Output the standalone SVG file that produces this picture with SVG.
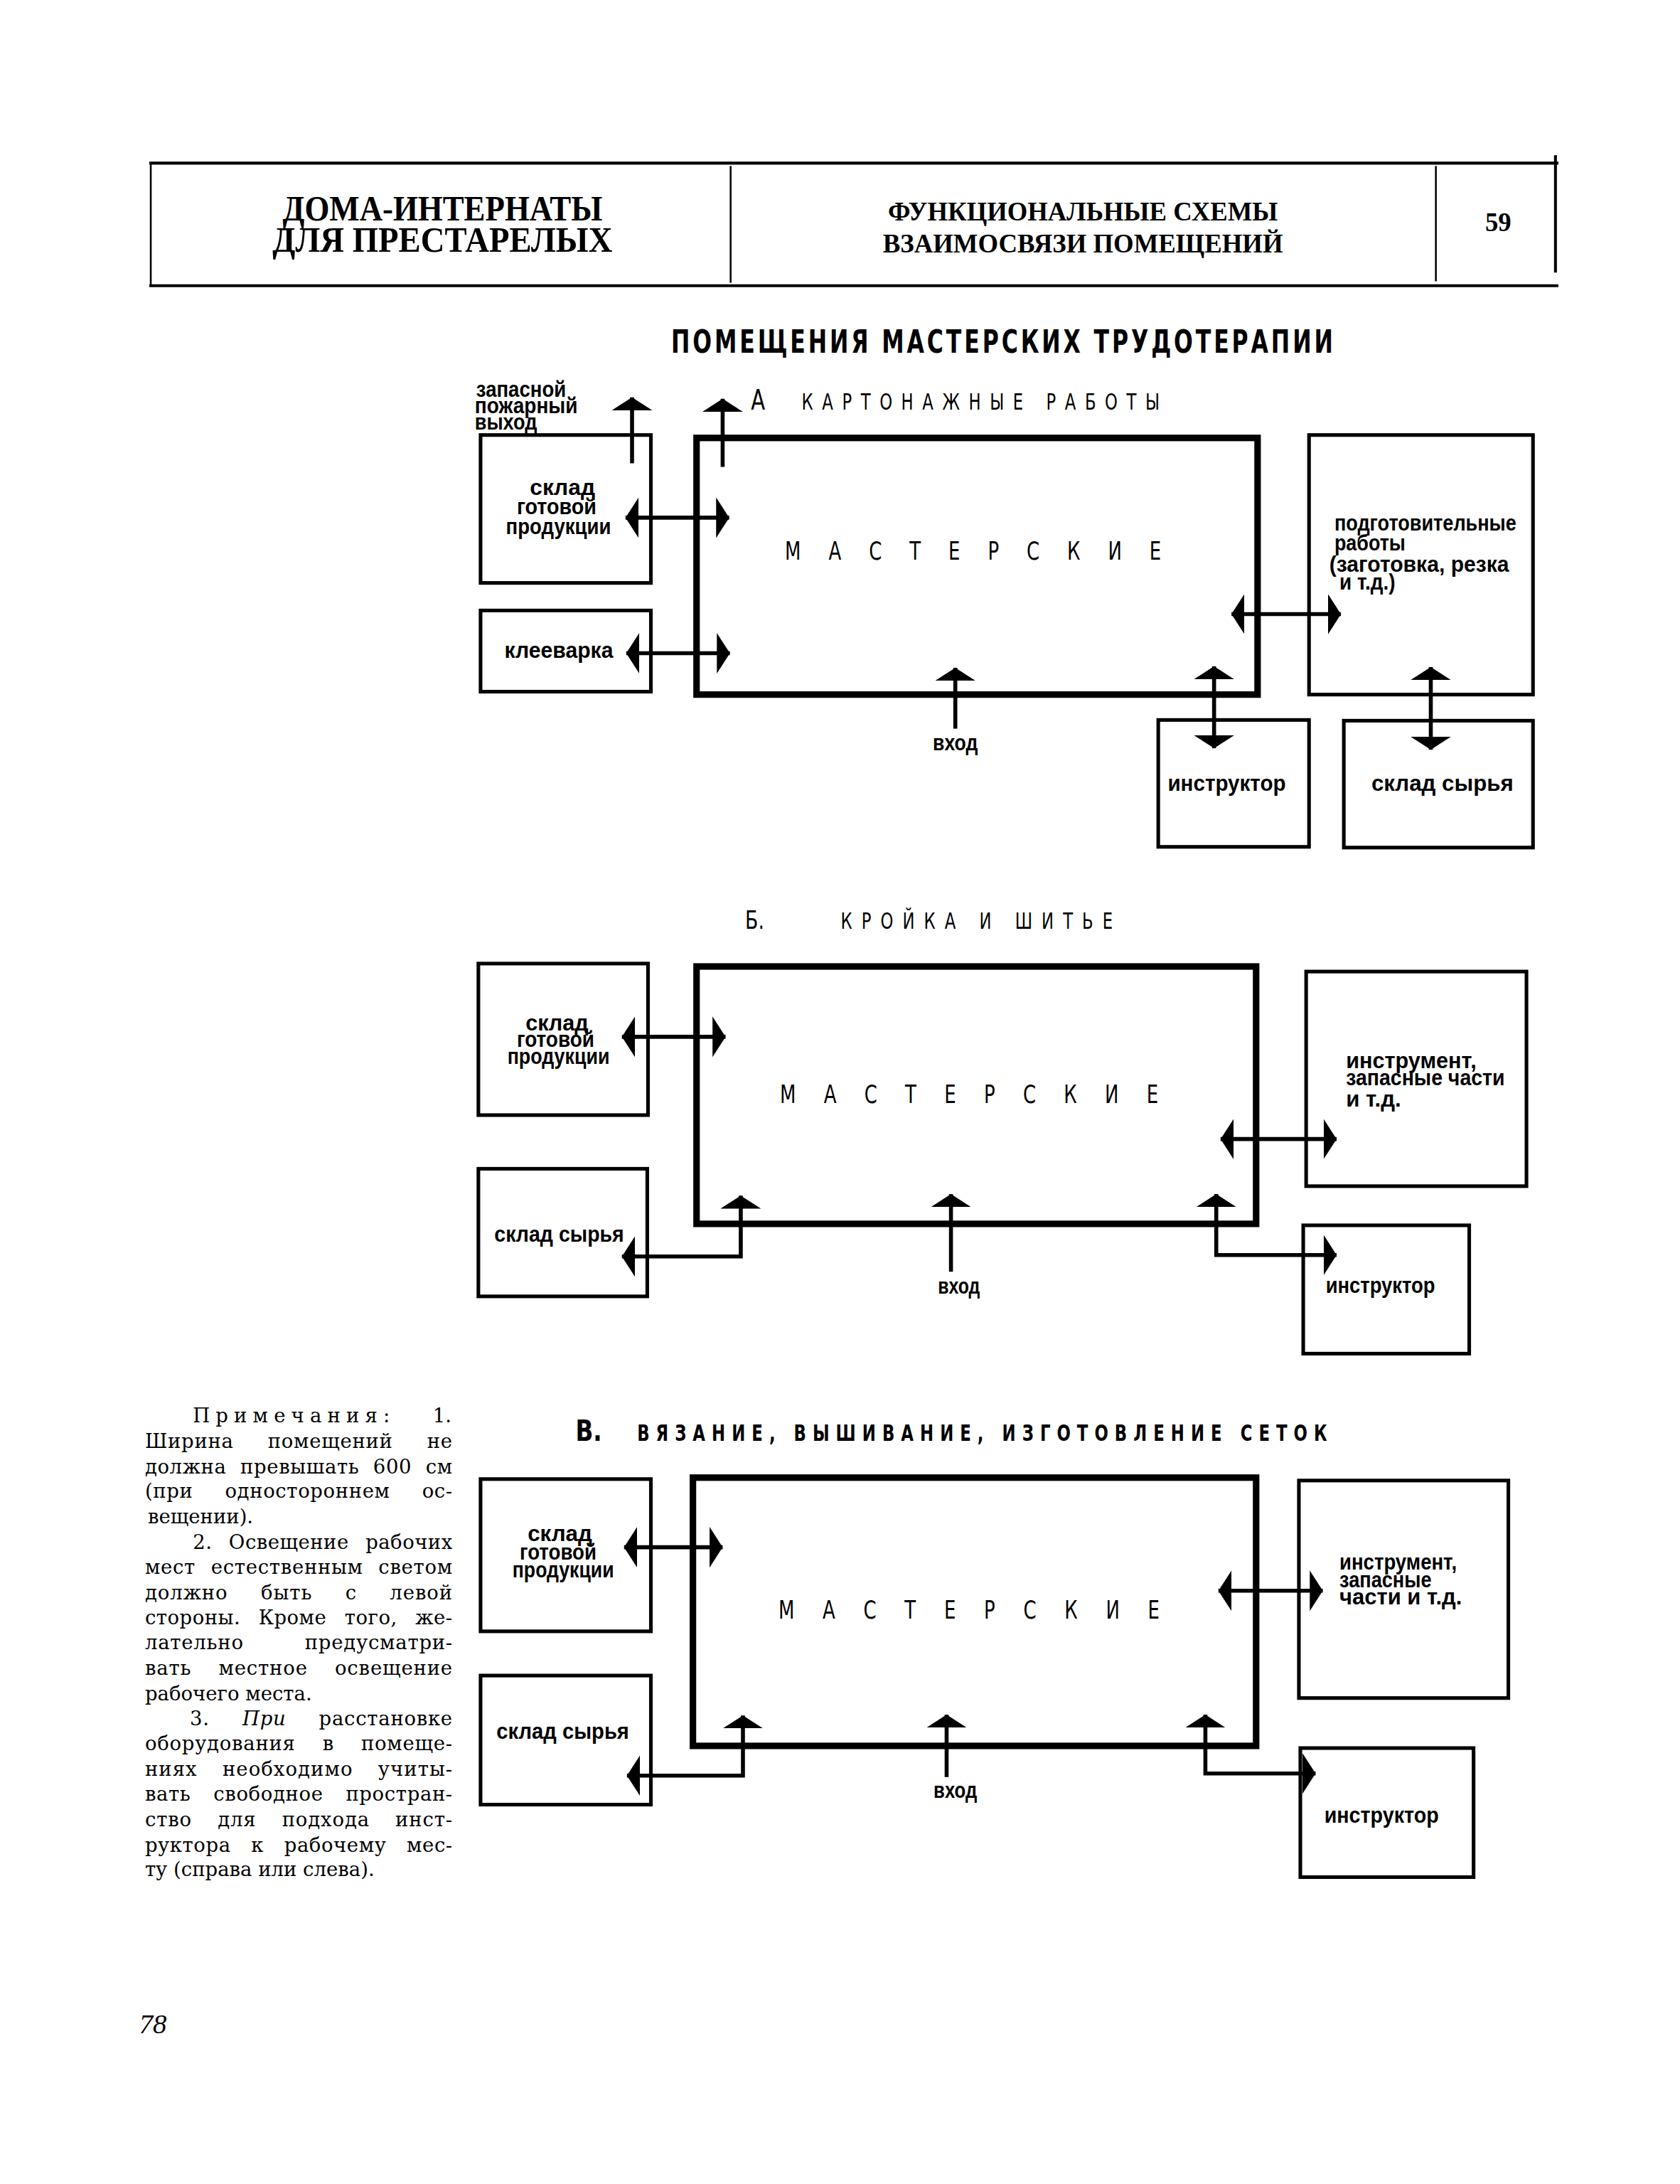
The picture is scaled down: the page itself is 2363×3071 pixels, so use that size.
<svg xmlns="http://www.w3.org/2000/svg" width="2363" height="3071" viewBox="0 0 2363 3071">
<defs>
<marker id="ah" viewBox="0 0 18 56" refX="18" refY="28" markerWidth="18" markerHeight="56" markerUnits="userSpaceOnUse" orient="auto-start-reverse"><path d="M0,0 L18,28 L0,56 Z" fill="#000"/></marker>
</defs>
<style>
.box{fill:none;stroke:#000;stroke-width:5}
.mast{fill:none;stroke:#000;stroke-width:9}
.conn{fill:none;stroke:#000;stroke-width:5.5}
.ln{stroke:#000}
.lbl{font-family:"Liberation Sans",Arial,sans-serif;font-weight:bold;font-size:30px;fill:#000}
.ttl{font-family:"DejaVu Sans","DejaVu Sans Condensed",sans-serif;fill:#000}
.hdr{font-family:"Liberation Serif","Times New Roman",serif;font-weight:bold;fill:#000}
.note{font-family:"DejaVu Serif",serif;font-size:27px;fill:#000}
</style>
<rect width="2363" height="3071" fill="#fff"/>
<g id="page" transform="scale(1.0195)">

<g id="header">
<line class="ln" x1="206" y1="225" x2="2150" y2="225" stroke-width="4"/>
<line class="ln" x1="206" y1="394" x2="2150" y2="394" stroke-width="4"/>
<line class="ln" x1="208" y1="225" x2="208" y2="394" stroke-width="2.5"/>
<line class="ln" x1="1008" y1="229" x2="1008" y2="390" stroke-width="2.5"/>
<line class="ln" x1="1981" y1="229" x2="1981" y2="388" stroke-width="2.5"/>
<line class="ln" x1="2146" y1="214" x2="2146" y2="376" stroke-width="4"/>
<text class="hdr" x="390" y="304" font-size="50" textLength="441" lengthAdjust="spacingAndGlyphs">ДОМА-ИНТЕРНАТЫ</text>
<text class="hdr" x="376" y="347" font-size="50" textLength="469" lengthAdjust="spacingAndGlyphs">ДЛЯ ПРЕСТАРЕЛЫХ</text>
<text class="hdr" x="1225" y="304" font-size="38" textLength="538" lengthAdjust="spacingAndGlyphs">ФУНКЦИОНАЛЬНЫЕ СХЕМЫ</text>
<text class="hdr" x="1218" y="348" font-size="38" textLength="552" lengthAdjust="spacingAndGlyphs">ВЗАИМОСВЯЗИ ПОМЕЩЕНИЙ</text>
<text class="hdr" x="2049" y="319" font-size="38" textLength="36" lengthAdjust="spacingAndGlyphs">59</text>
</g>

<g id="titles">
<text class="ttl" transform="translate(926,487) scale(0.72,1)" font-size="43" font-weight="bold" textLength="1268">ПОМЕЩЕНИЯ МАСТЕРСКИХ ТРУДОТЕРАПИИ</text>
<text class="ttl" transform="translate(1036,565) scale(0.75,1)" font-size="38">А</text>
<text class="ttl" transform="translate(1106,565) scale(0.72,1)" font-size="31" textLength="686">КАРТОНАЖНЫЕ РАБОТЫ</text>
<text class="ttl" transform="translate(1028,1281) scale(0.75,1)" font-size="35">Б.</text>
<text class="ttl" transform="translate(1160,1281) scale(0.72,1)" font-size="31" textLength="521">КРОЙКА И ШИТЬЕ</text>
<text class="ttl" transform="translate(794,1987) scale(0.8,1)" font-size="40" font-weight="bold">В.</text>
<text class="ttl" transform="translate(879,1987) scale(0.7,1)" font-size="32" font-weight="bold" textLength="1360">ВЯЗАНИЕ, ВЫШИВАНИЕ, ИЗГОТОВЛЕНИЕ СЕТОК</text>
</g>

<!-- Section A -->
<g id="a-fire-exit-label">
<text class="lbl" x="657" y="547" font-size="28" textLength="124" lengthAdjust="spacingAndGlyphs">запасной</text>
<text class="lbl" x="655" y="570" font-size="28" textLength="142" lengthAdjust="spacingAndGlyphs">пожарный</text>
<text class="lbl" x="655" y="592" font-size="28" textLength="86" lengthAdjust="spacingAndGlyphs">выход</text>
</g>
<g id="a-sklad-gotovoi">
<rect class="box" x="663" y="600" width="235" height="204"/>
<text class="lbl" x="731" y="683" textLength="90" lengthAdjust="spacingAndGlyphs">склад</text>
<text class="lbl" x="713" y="709" textLength="110" lengthAdjust="spacingAndGlyphs">готовой</text>
<text class="lbl" x="698" y="737" textLength="145" lengthAdjust="spacingAndGlyphs">продукции</text>
</g>
<g id="a-kleevarka">
<rect class="box" x="663" y="842" width="235" height="112"/>
<text class="lbl" x="696" y="907" textLength="150" lengthAdjust="spacingAndGlyphs">клееварка</text>
</g>
<g id="a-masterskie">
<rect class="mast" x="961" y="604" width="774" height="354"/>
<text class="ttl" transform="translate(1083,772) scale(0.75,1)" font-size="34" textLength="692">МАСТЕРСКИЕ</text>
</g>
<g id="a-podgotovitelnye">
<rect class="box" x="1806" y="600" width="309" height="358"/>
<text class="lbl" x="1841" y="732" textLength="251" lengthAdjust="spacingAndGlyphs">подготовительные</text>
<text class="lbl" x="1841" y="759" textLength="98" lengthAdjust="spacingAndGlyphs">работы</text>
<text class="lbl" x="1834" y="789" textLength="248" lengthAdjust="spacingAndGlyphs">(заготовка, резка</text>
<text class="lbl" x="1848" y="813" textLength="77" lengthAdjust="spacingAndGlyphs">и т.д.)</text>
</g>
<g id="a-instruktor">
<rect class="box" x="1598" y="993" width="208" height="175"/>
<text class="lbl" x="1611" y="1091" textLength="163" lengthAdjust="spacingAndGlyphs">инструктор</text>
</g>
<g id="a-sklad-syrya">
<rect class="box" x="1854" y="994" width="261" height="175"/>
<text class="lbl" x="1892" y="1091" textLength="196" lengthAdjust="spacingAndGlyphs">склад сырья</text>
</g>
<g id="a-vhod">
<text class="lbl" x="1287" y="1035" textLength="62" lengthAdjust="spacingAndGlyphs">вход</text>
</g>

<!-- Section B -->
<g id="b-sklad-gotovoi">
<rect class="box" x="660" y="1329" width="234" height="209"/>
<text class="lbl" x="725" y="1421" textLength="87" lengthAdjust="spacingAndGlyphs">склад</text>
<text class="lbl" x="713" y="1444" textLength="107" lengthAdjust="spacingAndGlyphs">готовой</text>
<text class="lbl" x="700" y="1467" textLength="141" lengthAdjust="spacingAndGlyphs">продукции</text>
</g>
<g id="b-sklad-syrya">
<rect class="box" x="660" y="1612" width="233" height="176"/>
<text class="lbl" x="682" y="1713" textLength="179" lengthAdjust="spacingAndGlyphs">склад сырья</text>
</g>
<g id="b-masterskie">
<rect class="mast" x="961" y="1333" width="772" height="355"/>
<text class="ttl" transform="translate(1076,1521) scale(0.75,1)" font-size="34" textLength="696">МАСТЕРСКИЕ</text>
</g>
<g id="b-instrument">
<rect class="box" x="1802" y="1340" width="304" height="296"/>
<text class="lbl" x="1857" y="1473" textLength="180" lengthAdjust="spacingAndGlyphs">инструмент,</text>
<text class="lbl" x="1857" y="1497" textLength="219" lengthAdjust="spacingAndGlyphs">запасные части</text>
<text class="lbl" x="1857" y="1526" textLength="76" lengthAdjust="spacingAndGlyphs">и т.д.</text>
</g>
<g id="b-instruktor">
<rect class="box" x="1798" y="1690" width="229" height="177"/>
<text class="lbl" x="1829" y="1783" textLength="151" lengthAdjust="spacingAndGlyphs">инструктор</text>
</g>
<g id="b-vhod">
<text class="lbl" x="1294" y="1784" textLength="58" lengthAdjust="spacingAndGlyphs">вход</text>
</g>

<!-- Section C -->
<g id="c-sklad-gotovoi">
<rect class="box" x="663" y="2040" width="235" height="210"/>
<text class="lbl" x="728" y="2126" textLength="89" lengthAdjust="spacingAndGlyphs">склад</text>
<text class="lbl" x="717" y="2151" textLength="106" lengthAdjust="spacingAndGlyphs">готовой</text>
<text class="lbl" x="707" y="2176" textLength="140" lengthAdjust="spacingAndGlyphs">продукции</text>
</g>
<g id="c-sklad-syrya">
<rect class="box" x="663" y="2311" width="235" height="178"/>
<text class="lbl" x="685" y="2398" textLength="183" lengthAdjust="spacingAndGlyphs">склад сырья</text>
</g>
<g id="c-masterskie">
<rect class="mast" x="956" y="2038" width="777" height="370"/>
<text class="ttl" transform="translate(1074,2232) scale(0.75,1)" font-size="34" textLength="701">МАСТЕРСКИЕ</text>
</g>
<g id="c-instrument">
<rect class="box" x="1792" y="2042" width="289" height="300"/>
<text class="lbl" x="1848" y="2165" textLength="162" lengthAdjust="spacingAndGlyphs">инструмент,</text>
<text class="lbl" x="1848" y="2189" textLength="127" lengthAdjust="spacingAndGlyphs">запасные</text>
<text class="lbl" x="1848" y="2213" textLength="169" lengthAdjust="spacingAndGlyphs">части и т.д.</text>
</g>
<g id="c-instruktor">
<rect class="box" x="1794" y="2411" width="239" height="178"/>
<text class="lbl" x="1827" y="2514" textLength="158" lengthAdjust="spacingAndGlyphs">инструктор</text>
</g>
<g id="c-vhod">
<text class="lbl" x="1288" y="2480" textLength="60" lengthAdjust="spacingAndGlyphs">вход</text>
</g>

<g id="connectors" class="conn">
<path d="M872,639 V548" marker-end="url(#ah)"/>
<path d="M997,644 V550" marker-end="url(#ah)"/>
<path d="M863,714 H1006" marker-start="url(#ah)" marker-end="url(#ah)"/>
<path d="M864,901 H1007" marker-start="url(#ah)" marker-end="url(#ah)"/>
<path d="M1699,847 H1850" marker-start="url(#ah)" marker-end="url(#ah)"/>
<path d="M1675,919 V1032" marker-start="url(#ah)" marker-end="url(#ah)"/>
<path d="M1974,920 V1034" marker-start="url(#ah)" marker-end="url(#ah)"/>
<path d="M1318,1005 V921" marker-end="url(#ah)"/>
<path d="M858,1430 H1001" marker-start="url(#ah)" marker-end="url(#ah)"/>
<path d="M858,1733 H1022 V1649" marker-start="url(#ah)" marker-end="url(#ah)"/>
<path d="M1312,1754 V1647" marker-end="url(#ah)"/>
<path d="M1684,1571 H1844" marker-start="url(#ah)" marker-end="url(#ah)"/>
<path d="M1678,1647 V1731 H1844" marker-start="url(#ah)" marker-end="url(#ah)"/>
<path d="M861,2134 H997" marker-start="url(#ah)" marker-end="url(#ah)"/>
<path d="M865,2449 H1025 V2366" marker-start="url(#ah)" marker-end="url(#ah)"/>
<path d="M1306,2451 V2365" marker-end="url(#ah)"/>
<path d="M1681,2194 H1825" marker-start="url(#ah)" marker-end="url(#ah)"/>
<path d="M1663,2365 V2446 H1815" marker-start="url(#ah)" marker-end="url(#ah)"/>
</g>

<g id="notes" class="note">
<text y="1962"><tspan x="266" letter-spacing="8">Примечания:</tspan><tspan x="597">1.</tspan></text>
<text x="200" y="1997" word-spacing="38" textLength="424">Ширина помещений не</text>
<text x="200" y="2032" word-spacing="10" textLength="424">должна превышать 600 см</text>
<text x="200" y="2066" word-spacing="35" textLength="424">(при одностороннем ос-</text>
<text x="204" y="2101">вещении).</text>
<text x="266" y="2136" word-spacing="14" textLength="358">2. Освещение рабочих</text>
<text x="200" y="2171" word-spacing="12" textLength="424">мест естественным светом</text>
<text x="200" y="2206" word-spacing="36" textLength="424">должно быть с левой</text>
<text x="200" y="2240" word-spacing="16" textLength="424">стороны. Кроме того, же-</text>
<text x="200" y="2275" word-spacing="75" textLength="424">лательно предусматри-</text>
<text x="200" y="2310" word-spacing="28" textLength="424">вать местное освещение</text>
<text x="200" y="2345">рабочего места.</text>
<text x="262" y="2380" word-spacing="36" textLength="362">3. <tspan font-style="italic">При</tspan> расстановке</text>
<text x="200" y="2414" word-spacing="28" textLength="424">оборудования в помеще-</text>
<text x="200" y="2449" word-spacing="25" textLength="424">ниях необходимо учиты-</text>
<text x="200" y="2484" word-spacing="22" textLength="424">вать свободное простран-</text>
<text x="200" y="2519" word-spacing="26" textLength="424">ство для подхода инст-</text>
<text x="200" y="2554" word-spacing="19" textLength="424">руктора к рабочему мес-</text>
<text x="200" y="2588">ту (справа или слева).</text>
</g>

<g id="page-number">
<text x="192" y="2804" font-family="Liberation Serif, Times New Roman, serif" font-style="italic" font-size="38" fill="#000">78</text>
</g>
</g>
</svg>
